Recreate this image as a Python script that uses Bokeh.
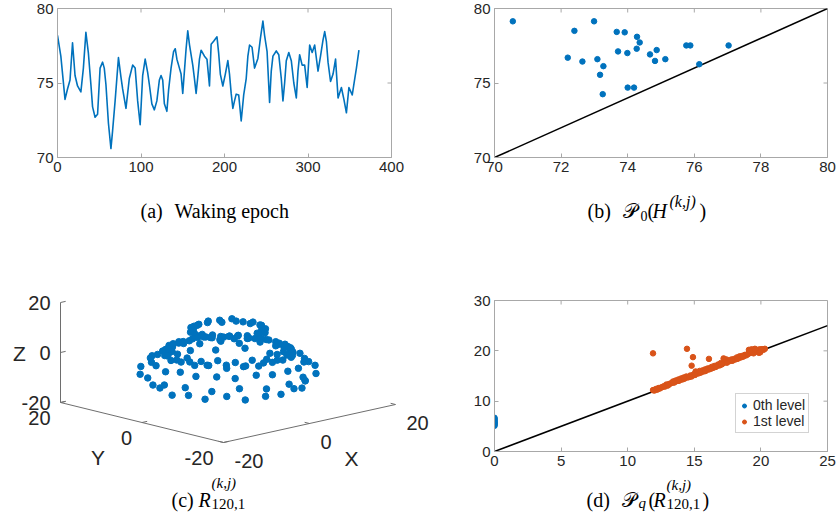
import numpy as np
from bokeh.plotting import figure
from bokeh.models import Range1d, FixedTicker
from bokeh.layouts import row, column
from bokeh.embed import file_html
from bokeh.resources import INLINE
from bokeh.core.properties import value

BLUE = "#0072BD"
ORANGE = "#D95319"
AXC = "#a8a8a8"
TXT = "#262626"
SANS = "Liberation Sans"
SERIF = "Liberation Serif"

# ---------------- (a) waking epoch ----------------
epoch_t = [0, 4, 9, 12, 15, 18, 21, 24, 28, 31, 34, 37, 40, 42, 45, 48, 51, 54, 56, 58,
           61, 64, 66, 69, 73, 76, 78, 82, 86, 90, 93, 96, 99, 102, 105, 108, 110, 113,
           116, 119, 122, 124, 126, 128, 131, 133, 136, 139, 141, 143, 145, 148, 150,
           152, 154, 156, 158, 162, 164, 166, 168, 170, 172, 176, 179, 182, 184, 187,
           191, 193, 195, 198, 201, 204, 206, 208, 210, 212, 214, 217, 220, 223, 226,
           228, 230, 233, 236, 240, 243, 246, 248, 251, 254, 256, 258, 262, 265, 268,
           270, 272, 274, 277, 280, 283, 286, 288, 290, 293, 296, 299, 302, 305, 308,
           312, 315, 318, 320, 322, 324, 327, 330, 333, 336, 340, 343, 346, 349, 353,
           356, 358, 361]
epoch_v = [78.2, 76.8, 73.9, 74.6, 75.2, 77.7, 75.5, 74.8, 74.4, 76.0, 78.4, 77.0, 74.9,
           73.4, 72.7, 72.9, 76.0, 76.4, 76.0, 74.9, 72.3, 70.6, 71.8, 73.8, 76.7, 75.4,
           74.6, 73.3, 75.3, 76.2, 76.0, 73.8, 72.2, 75.5, 76.6, 75.7, 74.9, 73.6, 73.2,
           73.8, 75.2, 75.5, 75.2, 73.6, 73.1, 74.5, 76.0, 77.1, 77.3, 76.6, 76.2, 75.6,
           74.3, 75.8, 77.3, 78.5, 77.6, 76.2, 75.3, 74.3, 75.4, 76.6, 77.2, 76.8, 76.6,
           74.8, 77.6, 77.8, 78.1, 77.0, 75.6, 74.8, 75.6, 76.5, 75.6, 74.3, 73.3, 73.8,
           74.25, 74.2, 72.45, 74.2, 75.3, 76.8, 77.55, 77.4, 76.0, 76.65, 78.0, 79.15,
           78.2, 77.1, 73.7, 75.8, 76.8, 77.15, 76.9, 75.3, 73.8, 75.0, 76.5, 77.05, 76.5,
           75.0, 74.0, 75.8, 76.9, 76.2, 76.2, 74.7, 77.55, 77.05, 77.55, 75.8, 76.8,
           77.9, 78.45, 77.8, 76.4, 75.1, 75.6, 76.6, 74.0, 74.7, 73.9, 73.0, 74.7, 74.2,
           75.3, 76.0, 77.2]
a_xticks = [0, 100, 200, 300, 400]
a_yticks = [70, 75, 80]

# ---------------- (b) persistence of H ----------------
b_x = [70.55, 72.2, 72.4, 72.64, 72.99, 73.09, 73.17, 73.27, 73.25, 73.67, 73.71, 73.91,
       73.99, 74.0, 74.19, 74.28, 74.27, 74.36, 74.67, 74.82, 74.87, 75.13, 75.76, 75.88,
       76.15, 77.03]
b_y = [79.14, 76.7, 78.5, 76.44, 79.14, 76.6, 75.55, 76.13, 74.25, 78.43, 77.12, 78.4,
       77.01, 74.69, 74.69, 78.1, 77.3, 77.72, 76.92, 76.48, 77.21, 76.6, 77.52, 77.52,
       76.26, 77.52]
b_diag = [70, 80]
b_xticks = [70, 72, 74, 76, 78, 80]
b_yticks = [70, 75, 80]

# ---------------- (c) 3-D point cloud (X, Y, Z) ----------------
cloud_pts = [
    # upper rim
    (6.0, 0.2, 10.2), (5.4, 2.0, 9.8), (4.7, 4.0, 10.5), (3.1, 5.3, 10.0), (0.9, 5.8, 10.3),
    (-1.1, 6.0, 9.7), (-3.2, 5.0, 10.1), (-4.4, 3.8, 10.4), (-5.8, 2.2, 9.6), (-6.1, -0.1, 10.0),
    (-5.5, -2.0, 10.3), (-4.7, -3.9, 9.9), (-2.8, -5.3, 10.2), (-1.0, -5.8, 9.8), (1.1, -6.0, 10.1),
    (3.0, -5.1, 10.4), (4.5, -3.8, 9.7), (5.7, -2.2, 10.0),
    (6.3, 1.2, 9.1), (5.3, 3.6, 9.5), (3.6, 5.3, 9.0), (1.2, 6.3, 9.4), (-1.2, 6.3, 9.2),
    (-3.6, 5.3, 9.6), (-5.3, 3.6, 9.1), (-6.3, 1.2, 9.3), (-6.3, -1.2, 9.5), (-5.3, -3.6, 9.0),
    (-3.6, -5.3, 9.4), (-1.2, -6.3, 9.2), (1.2, -6.3, 9.6), (3.6, -5.3, 9.1), (5.3, -3.6, 9.3),
    (6.3, -1.2, 9.5),
    # dense middle band
    (9.5, 0.0, 1.8), (9.0, 2.9, 1.4), (7.7, 5.6, 2.1), (5.6, 7.7, 1.6), (2.9, 9.0, 1.9),
    (0.0, 9.5, 1.3), (-2.9, 9.0, 2.2), (-5.6, 7.7, 1.7), (-7.7, 5.6, 1.5), (-9.0, 2.9, 2.0),
    (-9.5, 0.0, 1.8), (-9.0, -2.9, 1.4), (-7.7, -5.6, 2.3), (-5.6, -7.7, 1.6), (-2.9, -9.0, 2.0),
    (0.0, -9.5, 1.5), (2.9, -9.0, 2.1), (5.6, -7.7, 1.7), (7.7, -5.6, 1.9), (9.0, -2.9, 1.4),
    (10.4, 1.6, 1.0), (9.4, 4.8, 0.7), (7.4, 7.4, 1.2), (4.8, 9.4, 0.8), (1.6, 10.4, 1.1),
    (-1.6, 10.4, 0.6), (-4.8, 9.4, 1.3), (-7.4, 7.4, 0.9), (-9.4, 4.8, 1.0), (-10.4, 1.6, 0.7),
    (-10.4, -1.6, 1.2), (-9.4, -4.8, 0.8), (-7.4, -7.4, 1.1), (-4.8, -9.4, 0.6), (-1.6, -10.4, 1.0),
    (1.6, -10.4, 0.9), (4.8, -9.4, 1.3), (7.4, -7.4, 0.7), (9.4, -4.8, 1.1), (10.4, -1.6, 0.8),
    (11.1, 0.0, 0.5), (10.5, 2.9, 1.0), (9.6, 5.4, 0.2), (7.7, 7.9, 0.8), (5.4, 9.6, 0.4),
    (2.9, 10.5, 1.1), (0.1, 11.1, 0.3), (-2.7, 10.6, 0.7), (-5.6, 9.4, 0.0), (-7.9, 7.7, 0.9),
    (-9.4, 5.6, 0.5), (-10.7, 2.7, 0.2), (-11.0, -0.1, 0.8), (-10.5, -2.9, 0.4), (-9.6, -5.4, 1.0),
    (-7.7, -7.8, 0.1), (-5.4, -9.5, 0.6), (-2.9, -10.6, 0.3), (-0.1, -11.0, 0.9), (2.8, -10.5, 0.5),
    (5.6, -9.6, 0.2), (7.8, -7.7, 0.7), (9.5, -5.5, 0.4), (10.6, -2.8, 0.8),
    (12.8, 1.8, -2.5), (12.1, 4.9, -2.0), (10.2, 8.0, -3.0), (8.0, 10.2, -2.2), (4.9, 12.1, -2.8),
    (1.8, 12.8, -1.8), (-1.6, 13.0, -2.6), (-5.1, 11.9, -3.2), (-7.8, 10.4, -2.1), (-10.4, 7.8, -2.7),
    (-11.9, 5.1, -2.4), (-13.0, 1.6, -3.0), (-12.8, -1.8, -1.9), (-12.1, -4.9, -2.6), (-10.2, -8.0, -2.3),
    (-8.0, -10.2, -2.9), (-4.9, -12.1, -2.0), (-1.8, -12.8, -2.7), (1.6, -13.0, -2.5), (5.1, -11.9, -3.1),
    (7.8, -10.4, -2.2), (10.4, -7.8, -2.8), (11.9, -5.1, -2.4), (13.0, -1.6, -2.0),
    # lower rings
    (15.1, 0.1, -6.5), (14.2, 4.7, -7.2), (12.2, 8.7, -6.0), (8.7, 12.2, -6.8), (4.7, 14.2, -6.3),
    (0.1, 15.0, -7.0), (-4.5, 14.3, -5.8), (-8.9, 12.0, -6.6), (-12.0, 8.9, -7.3), (-14.4, 4.5, -6.1),
    (-14.9, -0.1, -6.9), (-14.3, -4.6, -6.4), (-12.1, -8.8, -7.1), (-8.8, -12.1, -5.9), (-4.6, -14.3, -6.7),
    (-0.1, -15.1, -6.2), (4.5, -14.2, -7.0), (8.9, -12.2, -6.5), (12.0, -8.7, -5.8), (14.3, -4.7, -6.8),
    (-11.2, 6.6, -11.0), (-12.7, 3.3, -10.3), (-12.9, 0.1, -11.8), (-12.5, -3.5, -10.6),
    (-11.4, -6.4, -11.4), (-9.1, -9.3, -10.0), (-6.6, -11.2, -11.6), (-3.3, -12.7, -10.8),
    (0.1, -12.9, -11.2), (3.5, -12.5, -10.4), (6.4, -11.4, -11.7), (9.3, -9.1, -10.7),
    (11.2, -6.6, -11.1),
]
c_lim = [-20, 20]
c_ticks = [-20, 0, 20]
c_tick_labels = ["-20", "0", "20"]

# ---------------- (d) persistence of R ----------------
d0_x = [0, 0, 0, 0, 0, 0, 0, 0, 0, 0]
d0_y = [5.1, 5.3, 5.5, 5.6, 5.8, 5.9, 6.1, 6.3, 6.5, 6.7]
d1_pts = [
    (11.9, 12.2), (12.0, 12.1), (12.1, 12.4), (12.2, 12.3), (12.3, 12.6), (12.4, 12.5),
    (12.5, 12.7), (12.6, 12.8), (12.8, 12.9), (12.9, 13.3), (13.0, 13.1), (13.1, 13.4),
    (13.2, 13.5), (13.3, 13.6), (13.4, 13.9), (13.5, 13.7), (13.6, 14.1), (13.7, 14.0),
    (13.8, 14.3), (13.9, 14.2), (14.0, 14.5), (14.1, 14.3), (14.2, 14.7), (14.3, 14.6),
    (14.4, 14.9), (14.5, 14.7), (14.6, 14.8), (14.7, 15.1), (14.8, 14.9), (14.9, 15.2),
    (15.0, 15.4), (15.1, 15.9), (15.2, 15.6), (15.3, 15.5), (15.4, 16.0), (15.5, 15.7),
    (15.6, 16.1), (15.7, 15.9), (15.8, 16.3), (15.9, 16.2), (16.0, 16.5), (16.1, 16.3),
    (16.2, 16.6), (16.3, 16.8), (16.4, 16.6), (16.5, 17.0), (16.6, 16.8), (16.7, 17.1),
    (16.8, 17.3), (16.9, 17.1), (17.0, 17.6), (17.1, 17.4), (17.2, 18.5), (17.3, 17.7),
    (17.4, 18.3), (17.5, 17.8), (17.6, 18.1), (17.7, 18.0), (17.8, 18.3), (17.9, 18.1),
    (18.0, 18.4), (18.1, 18.3), (18.2, 18.7), (18.3, 18.5), (18.4, 18.9), (18.5, 18.7),
    (18.6, 19.0), (18.7, 18.9), (18.8, 19.2), (18.9, 19.1), (19.0, 19.3), (19.1, 20.2),
    (19.2, 19.6), (19.3, 20.3), (19.4, 19.7), (19.5, 20.0), (19.6, 19.8), (19.7, 20.2),
    (19.8, 19.9), (19.9, 20.3), (20.0, 20.1), (20.1, 20.3), (20.2, 20.2), (20.3, 20.4),
    (12.25, 12.35), (12.7, 12.95), (13.05, 13.2), (13.45, 13.75), (13.85, 14.05),
    (14.25, 14.45), (14.65, 14.85), (15.05, 15.2), (15.45, 15.7), (15.85, 16.0),
    (16.25, 16.45), (16.65, 16.9), (17.05, 17.3), (17.45, 17.65), (17.85, 18.05),
    (18.25, 18.45), (18.65, 18.85), (19.05, 19.4), (19.25, 20.0), (19.45, 19.5),
    (19.65, 20.1), (19.85, 19.6), (20.05, 20.3), (19.15, 19.9), (19.55, 20.4), (19.95, 19.7),
    (11.9, 19.5), (14.45, 20.4), (14.9, 18.75), (16.1, 18.4), (14.8, 17.05),
]
d_diag = [0, 25]
d_xticks = [0, 5, 10, 15, 20, 25]
d_yticks = [0, 10, 20, 30]
legend_labels = ["0th level", "1st level"]

TICK_PX = 4


def panel2d(w, h, xr, yr, xt, yt, left, right, top, bottom):
    p = figure(width=w, height=h, x_range=Range1d(*xr), y_range=Range1d(*yr),
               output_backend="svg", toolbar_location=None, frame_align=False,
               min_border_left=left, min_border_right=right,
               min_border_top=top, min_border_bottom=bottom)
    p.grid.visible = False
    p.outline_line_color = AXC
    p.outline_line_width = 1
    p.background_fill_color = "white"
    p.border_fill_color = "white"
    p.xaxis.ticker = FixedTicker(ticks=xt)
    p.yaxis.ticker = FixedTicker(ticks=yt)
    for ax in p.axis:
        ax.axis_line_color = AXC
        ax.major_tick_line_color = AXC
        ax.major_tick_in = TICK_PX
        ax.major_tick_out = 0
        ax.minor_tick_line_color = None
        ax.major_label_text_font = SANS
        ax.major_label_text_font_size = "15px"
        ax.major_label_text_color = TXT
        ax.major_label_standoff = 4
    # mirrored ticks on the top and right edges of the box
    fw = w - left - right
    fh = h - top - bottom
    dx = TICK_PX * (xr[1] - xr[0]) / fw
    dy = TICK_PX * (yr[1] - yr[0]) / fh
    p.segment(x0=xt, y0=[yr[1]] * len(xt), x1=xt, y1=[yr[1] - dy] * len(xt),
              line_color=AXC, line_width=1)
    p.segment(x0=[xr[1]] * len(yt), y0=yt, x1=[xr[1] - dx] * len(yt), y1=yt,
              line_color=AXC, line_width=1)
    return p


def canvas(w, h, xr, yr):
    p = figure(width=w, height=h, x_range=Range1d(*xr), y_range=Range1d(*yr),
               output_backend="svg", toolbar_location=None, frame_align=False,
               x_axis_type=None, y_axis_type=None, min_border=0)
    p.grid.visible = False
    p.outline_line_color = None
    p.background_fill_color = "white"
    p.border_fill_color = "white"
    return p


def put(p, x, y, txt, size, style="normal", align="left", font=SERIF, baseline="alphabetic",
        color="black"):
    p.text(x=[x], y=[y], text=[txt], text_font=value(font), text_font_size=value(size),
           text_font_style=style, text_align=align, text_baseline=baseline, text_color=color)


# ---- (a)
pa = panel2d(419, 190, (0, 400), (70, 80), a_xticks, a_yticks, 57, 28, 8, 33)
pa.line(epoch_t, epoch_v, line_color=BLUE, line_width=1.6, line_join="round")

# ---- (b)
pb = panel2d(419, 190, (70, 80), (70, 80), b_xticks, b_yticks, 75, 11, 8, 33)
pb.line(b_diag, b_diag, line_color="black", line_width=1.5)
pb.scatter(b_x, b_y, size=5.5, fill_color=BLUE, line_color=BLUE)

# ---- captions (a), (b)  (page coordinates)
cap_ab = canvas(838, 70, (0, 838), (260, 190))
put(cap_ab, 140, 210, "(a)", "20px")
put(cap_ab, 174, 210, "Waking epoch", "20px")
put(cap_ab, 587, 210, "(b)", "20px")
put(cap_ab, 622, 210, "\U0001D4AB", "20px")
put(cap_ab, 640, 215, "0", "14px")
put(cap_ab, 647, 210, "(", "20px")
put(cap_ab, 652, 210, "H", "20px", "italic")
put(cap_ab, 669, 201, "(k,j)", "16px", "italic")
put(cap_ab, 699, 210, ")", "20px")


# ---- (c) 3-D scatter, drawn in page coordinates through an oblique projection
def project(X, Y, Z):
    X = np.asarray(X, float) + 20
    Y = np.asarray(Y, float) + 20
    Z = np.asarray(Z, float) + 20
    px = 223 + 4.3 * X - 4.075 * Y
    py = 442 - 0.95 * X - 1.0 * Y - 2.5 * Z
    return px, py


pc = canvas(430, 261, (0, 430), (521, 260))
lo, hi = c_lim
corner_z = project([lo, lo], [hi, hi], [lo, hi])
corner_y = project([lo, lo], [hi, lo], [lo, lo])
corner_x = project([lo, hi], [lo, lo], [lo, lo])
pc.multi_line([list(corner_z[0]), list(corner_y[0]), list(corner_x[0])],
              [list(corner_z[1]), list(corner_y[1]), list(corner_x[1])],
              line_color="#6e6e6e", line_width=1)
tz0 = project([lo] * 3, [hi] * 3, c_ticks)
tz1 = project([lo + 1.2] * 3, [hi] * 3, c_ticks)
ty0 = project([lo] * 3, c_ticks, [lo] * 3)
ty1 = project([lo + 1.2] * 3, c_ticks, [lo] * 3)
tx0 = project(c_ticks, [lo] * 3, [lo] * 3)
tx1 = project(c_ticks, [lo + 1.2] * 3, [lo] * 3)
pc.segment(x0=list(np.r_[tz0[0], ty0[0], tx0[0]]), y0=list(np.r_[tz0[1], ty0[1], tx0[1]]),
           x1=list(np.r_[tz1[0], ty1[0], tx1[0]]), y1=list(np.r_[tz1[1], ty1[1], tx1[1]]),
           line_color="#6e6e6e", line_width=1)
cx, cy = project([q[0] for q in cloud_pts], [q[1] for q in cloud_pts], [q[2] for q in cloud_pts])
pc.scatter(list(cx), list(cy), size=6.5, fill_color=BLUE, line_color=BLUE)
pc.text(x=list(tz0[0] - 10), y=list(tz0[1]), text=c_tick_labels, text_font=value(SANS),
        text_font_size=value("20px"), text_align="right", text_baseline="middle", text_color=TXT)
pc.text(x=list(ty0[0] - 10), y=list(ty0[1] + 15), text=c_tick_labels, text_font=value(SANS),
        text_font_size=value("20px"), text_align="right", text_baseline="middle", text_color=TXT)
pc.text(x=list(tx0[0] + 11), y=list(tx0[1] + 18), text=c_tick_labels, text_font=value(SANS),
        text_font_size=value("20px"), text_align="left", text_baseline="middle", text_color=TXT)
mz = project([lo], [hi], [0])
my = project([lo], [0], [lo])
mx = project([0], [lo], [lo])
put(pc, mz[0][0] - 41, mz[1][0] + 1, "Z", "21px", font=SANS, align="center", baseline="middle", color=TXT)
put(pc, my[0][0] - 44, my[1][0] + 35, "Y", "21px", font=SANS, align="center", baseline="middle", color=TXT)
put(pc, mx[0][0] + 42, mx[1][0] + 35, "X", "21px", font=SANS, align="center", baseline="middle", color=TXT)
# caption (c)
put(pc, 171, 499, "(c)", "20px")
put(pc, 198, 499, "R", "20px", "italic")
put(pc, 211, 482, "(k,j)", "15px", "italic")
put(pc, 211, 503, "120,1", "15px")

# ---- (d)
pd = panel2d(408, 213, (0, 25), (0, 30), d_xticks, d_yticks, 64, 11, 40, 22)
pd.line(d_diag, d_diag, line_color="black", line_width=1.5)
pd.scatter(d0_x, d0_y, size=5.5, fill_color=BLUE, line_color=BLUE, legend_label=legend_labels[0])
pd.scatter([q[0] for q in d1_pts], [q[1] for q in d1_pts], size=5.5, fill_color=ORANGE,
           line_color=ORANGE, legend_label=legend_labels[1])
lg = pd.legend[0]
lg.location = (241, 18)
lg.padding = 3
lg.spacing = 0
lg.margin = 0
lg.glyph_width = 10
lg.glyph_height = 15
lg.label_height = 15
lg.label_standoff = 4
lg.label_text_font = SANS
lg.label_text_font_size = "14px"
lg.label_text_color = TXT
lg.border_line_color = AXC
lg.background_fill_color = "white"
lg.background_fill_alpha = 1.0

# caption (d)  (page coordinates)
cap_d = canvas(408, 48, (430, 838), (521, 473))
put(cap_d, 586, 499, "(d)", "20px")
put(cap_d, 621, 499, "\U0001D4AB", "20px")
put(cap_d, 638, 502, "q", "15px", "italic")
put(cap_d, 648, 499, "(", "20px")
put(cap_d, 653, 499, "R", "20px", "italic")
put(cap_d, 666, 484, "(k,j)", "15px", "italic")
put(cap_d, 666, 503, "120,1", "15px")
put(cap_d, 702, 499, ")", "20px")

layout = column(row(pa, pb), cap_ab, row(pc, column(pd, cap_d)))

with open("out.html", "w") as f:
    f.write(file_html(layout, INLINE))
